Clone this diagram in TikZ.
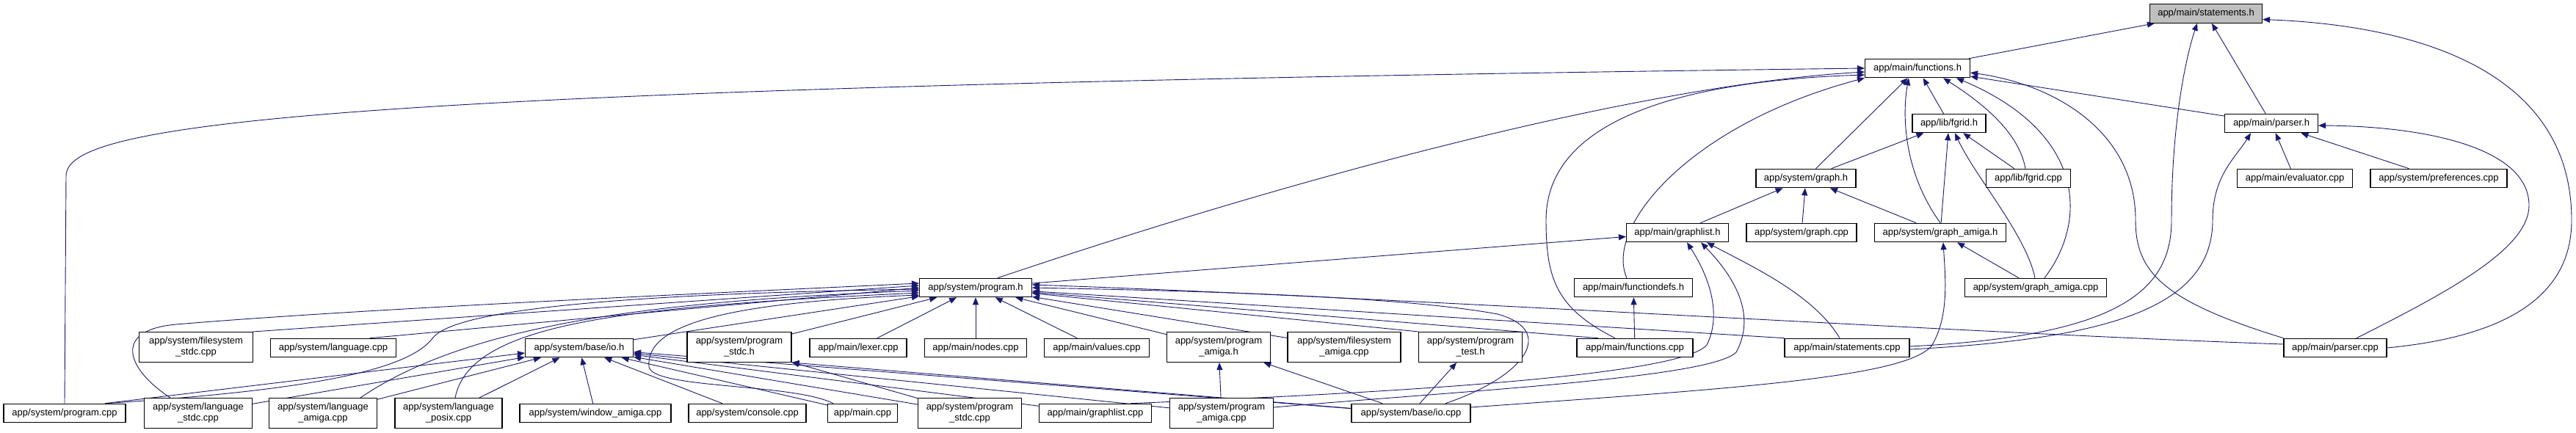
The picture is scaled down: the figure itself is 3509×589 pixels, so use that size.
\documentclass[tikz,border=0pt]{standalone}
\usepackage{fontspec}
\setmainfont{Liberation Sans}
\usepackage{tikz}
\usetikzlibrary{arrows.meta,positioning}
\definecolor{edgeblue}{HTML}{191970}
\pgfdeclarelayer{back}
\pgfdeclarelayer{edges}
\pgfsetlayers{back,edges,main}

\begin{document}
\begin{tikzpicture}[
        x=1pt, y=-1pt,
        every node/.style={draw, fill=white, align=center, inner sep=2pt, minimum height=25.5pt, line width=1.1pt, font=\fontsize{13}{15}\selectfont},
        two/.style={minimum height=41pt},
        inc/.style={draw=edgeblue, line width=0.9pt, -{Triangle[length=10pt,width=8pt]}}
    ]
    \begin{pgfonlayer}{back}
    \fill[white] (0,0) rectangle (3509,589);
    \end{pgfonlayer}
    \useasboundingbox (0,0) rectangle (3509,589);

    \node[minimum width=153pt, fill=gray!50] (stmth) at (3005,18.5) {app/main/statements.h};
    \node[minimum width=143pt] (funch) at (2612,93) {app/main/functions.h};
    \node[minimum width=100pt] (fgridh) at (2655,168) {app/lib/fgrid.h};
    \node[minimum width=127pt] (parserh) at (3094,168) {app/main/parser.h};
    \node[minimum width=136pt] (graphh) at (2460,243) {app/system/graph.h};
    \node[minimum width=115pt] (fgridcpp) at (2763,243) {app/lib/fgrid.cpp};
    \node[minimum width=157pt] (evalcpp) at (3126,243) {app/main/evaluator.cpp};
    \node[minimum width=186pt] (prefcpp) at (3322,243) {app/system/preferences.cpp};
    \node[minimum width=139pt] (graphlisth) at (2285,317) {app/main/graphlist.h};
    \node[minimum width=150pt] (graphcpp) at (2454,317) {app/system/graph.cpp};
    \node[minimum width=179pt] (grapham) at (2643,317) {app/system/graph\_amiga.h};
    \node[minimum width=153pt] (programh) at (1329,392) {app/system/program.h};
    \node[minimum width=161pt] (fdefsh) at (2225,392) {app/main/functiondefs.h};
    \node[minimum width=193pt] (graphamcpp) at (2773,392) {app/system/graph\_amiga.cpp};

    \node[two, minimum width=155pt] (fsstdc) at (267,473) {app/system/filesystem\\\_stdc.cpp};
    \node[minimum width=171pt] (langcpp) at (454,474) {app/system/language.cpp};
    \node[minimum width=147pt] (ioh) at (789,474) {app/system/base/io.h};
    \node[two, minimum width=142pt] (pstdch) at (1007,473) {app/system/program\\\_stdc.h};
    \node[minimum width=132pt] (lexer) at (1169,474) {app/main/lexer.cpp};
    \node[minimum width=139pt] (nodes) at (1329,474) {app/main/nodes.cpp};
    \node[minimum width=143pt] (values) at (1494,474) {app/main/values.cpp};
    \node[two, minimum width=141pt] (pamigah) at (1660,473) {app/system/program\\\_amiga.h};
    \node[two, minimum width=154pt] (fsamiga) at (1831,473) {app/system/filesystem\\\_amiga.cpp};
    \node[two, minimum width=141pt] (ptesth) at (2003,473) {app/system/program\\\_test.h};
    \node[minimum width=158pt] (funccpp) at (2227,474) {app/main/functions.cpp};
    \node[minimum width=170pt] (stmtcpp) at (2516,474) {app/main/statements.cpp};
    \node[minimum width=140pt] (parsercpp) at (3181,474) {app/main/parser.cpp};

    \node[minimum width=166pt] (progcpp) at (88,563) {app/system/program.cpp};
    \node[two, minimum width=147pt] (langstdc) at (270,563) {app/system/language\\\_stdc.cpp};
    \node[two, minimum width=147pt] (langamiga) at (440,563) {app/system/language\\\_amiga.cpp};
    \node[two, minimum width=146pt] (langposix) at (611,563) {app/system/language\\\_posix.cpp};
    \node[minimum width=206pt] (winamiga) at (811,563) {app/system/window\_amiga.cpp};
    \node[minimum width=160pt] (console) at (1018,563) {app/system/console.cpp};
    \node[minimum width=95pt] (maincpp) at (1175,563) {app/main.cpp};
    \node[two, minimum width=141pt] (pstdccpp) at (1321,563) {app/system/program\\\_stdc.cpp};
    \node[minimum width=153pt] (graphlistcpp) at (1492,563) {app/main/graphlist.cpp};
    \node[two, minimum width=141pt] (pamigacpp) at (1664,563) {app/system/program\\\_amiga.cpp};
    \node[minimum width=162pt] (iocpp) at (1922,563) {app/system/base/io.cpp};

    \begin{pgfonlayer}{edges}
    \draw[inc] (funch) -- (stmth);
    \draw[inc] ([yshift=2pt]stmtcpp.east) .. controls (2880,458) and (2958,400) .. (2958,300) .. controls (2958,160) and (2980,70) .. ([xshift=-12pt]stmth.south);
    \draw[inc] (parserh) -- (stmth);
    \draw[inc] (parsercpp.east) .. controls (3420,458) and (3503,400) .. (3503,300) .. controls (3503,100) and (3300,35) .. ([yshift=-8pt]stmth.east);

    \draw[inc] (progcpp.north) -- (90,240) .. controls (90,170) and (400,120) .. (funch.west);
    \draw[inc] ([xshift=30pt]programh.north) .. controls (1800,230) and (2250,115) .. ([yshift=-5pt]funch.west);
    \draw[inc] ([xshift=-27pt]funccpp.north) .. controls (2120,420) and (2106,380) .. (2106,300) .. controls (2106,160) and (2300,110) .. ([yshift=-9pt]funch.west);
    \draw[inc] ([xshift=-9pt]fdefsh.north) .. controls (2185,310) and (2300,170) .. (funch.south west);
    \draw[inc] (graphh) -- (funch);
    \draw[inc] (grapham.north) .. controls (2590,230) and (2592,150) .. ([xshift=-12pt]funch.south);
    \draw[inc] (fgridh) -- (funch);
    \draw[inc] ([xshift=-4pt]fgridcpp.north) .. controls (2750,180) and (2700,140) .. ([xshift=35pt]funch.south);
    \draw[inc] ([xshift=12pt]graphamcpp.north) .. controls (2845,300) and (2840,180) .. ([xshift=53pt]funch.south);
    \draw[inc] (parsercpp.north west) .. controls (2945,410) and (2909,370) .. (2909,300) .. controls (2909,180) and (2800,115) .. ([yshift=-6pt]funch.east);
    \draw[inc] (parserh) -- (funch);

    \draw[inc] (graphh) -- (fgridh);
    \draw[inc] (grapham) -- (fgridh);
    \draw[inc] ([xshift=-1pt]graphamcpp.north) .. controls (2760,320) and (2690,240) .. ([xshift=8pt]fgridh.south);
    \draw[inc] (fgridcpp) -- (fgridh);

    \draw[inc] ([yshift=-2pt]stmtcpp.east) .. controls (2870,462) and (3014,420) .. (3014,300) .. controls (3014,240) and (3045,215) .. ([xshift=-28pt]parserh.south);
    \draw[inc] (evalcpp) -- (parserh);
    \draw[inc] (prefcpp) -- (parserh);
    \draw[inc] ([xshift=29pt]parsercpp.north) .. controls (3330,400) and (3445,340) .. (3445,280) .. controls (3445,200) and (3300,172) .. ([yshift=-3pt]parserh.east);

    \draw[inc] (graphlisth) -- (graphh);
    \draw[inc] (graphcpp) -- (graphh);
    \draw[inc] (grapham) -- (graphh);

    \draw[inc] ([xshift=48pt]graphlistcpp.north) .. controls (1900,535) and (2290,512) .. (2325,470) .. controls (2345,430) and (2330,380) .. ([xshift=13pt]graphlisth.south);
    \draw[inc] ([yshift=8pt]pamigacpp.east) .. controls (2000,532) and (2330,515) .. (2365,480) .. controls (2392,430) and (2365,380) .. ([xshift=32pt]graphlisth.south);
    \draw[inc] ([xshift=-10pt]stmtcpp.north) .. controls (2470,400) and (2380,360) .. ([xshift=40pt]graphlisth.south);
    \draw[inc] (programh) -- (graphlisth);

    \draw[inc] ([yshift=8pt]iocpp.east) .. controls (2350,530) and (2600,515) .. (2632,470) .. controls (2655,430) and (2650,380) .. ([xshift=4pt]grapham.south);
    \draw[inc] (graphamcpp) -- (grapham);
    \draw[inc] (funccpp) -- (fdefsh);

    \draw[inc] ([xshift=55pt]progcpp.north) .. controls (450,530) and (560,500) .. (590,460) .. controls (630,410) and (1000,398) .. ([yshift=-2pt]programh.west);
    \draw[inc] ([xshift=-38pt]langstdc.north) .. controls (175,505) and (150,450) .. (240,442) .. controls (500,420) and (1000,398) .. ([yshift=6pt]programh.west);
    \draw[inc] (fsstdc.north east) -- ([yshift=3pt]programh.west);
    \draw[inc] ([xshift=50pt]langcpp.north) -- (programh.west);
    \draw[inc] ([xshift=51pt]langamiga.north) .. controls (640,440) and (900,410) .. ([yshift=-4pt]programh.west);
    \draw[inc] ([xshift=9pt]langposix.north) .. controls (640,440) and (850,418) .. ([yshift=-7pt]programh.west);
    \draw[inc] (ioh) -- (programh);
    \draw[inc] ([xshift=-40pt]maincpp.north) .. controls (1080,522) and (890,530) .. (884,500) .. controls (878,440) and (1000,412) .. ([yshift=-10pt]programh.west);
    \draw[inc] (pstdch) -- (programh);
    \draw[inc] (lexer) -- (programh);
    \draw[inc] (nodes) -- (programh);
    \draw[inc] (values) -- (programh);
    \draw[inc] (pamigah) -- (programh);
    \draw[inc] (fsamiga) -- (programh);
    \draw[inc] (ptesth.north west) -- (programh);
    \draw[inc] ([xshift=-50pt]funccpp.north) -- (programh);
    \draw[inc] (stmtcpp.north west) -- (programh);
    \draw[inc] ([yshift=5pt]parsercpp.west) .. controls (2700,455) and (1900,405) .. ([yshift=4pt]programh.east);
    \draw[inc] ([xshift=47pt]iocpp.north) .. controls (2080,512) and (2120,450) .. (2040,428) .. controls (1900,402) and (1600,396) .. (programh.east);

    \draw[inc] ([xshift=55pt]progcpp.north) -- ([yshift=-7pt]ioh.west);
    \draw[inc] (langstdc) -- (ioh);
    \draw[inc] (langamiga) -- (ioh);
    \draw[inc] (langposix) -- (ioh);
    \draw[inc] (winamiga) -- (ioh);
    \draw[inc] (console) -- (ioh);
    \draw[inc] (maincpp) -- (ioh);
    \draw[inc] (pstdccpp) -- (ioh);
    \draw[inc] (graphlistcpp) -- (ioh);
    \draw[inc] (pamigacpp) -- (ioh);
    \draw[inc] (iocpp) -- (ioh);

    \draw[inc] (pstdccpp) -- (pstdch);
    \draw[inc] (iocpp) -- (pstdch.south east);
    \draw[inc] (pamigacpp) -- (pamigah);
    \draw[inc] (iocpp) -- (pamigah);
    \draw[inc] (iocpp) -- (ptesth);
    \end{pgfonlayer}
\end{tikzpicture}
\end{document}
